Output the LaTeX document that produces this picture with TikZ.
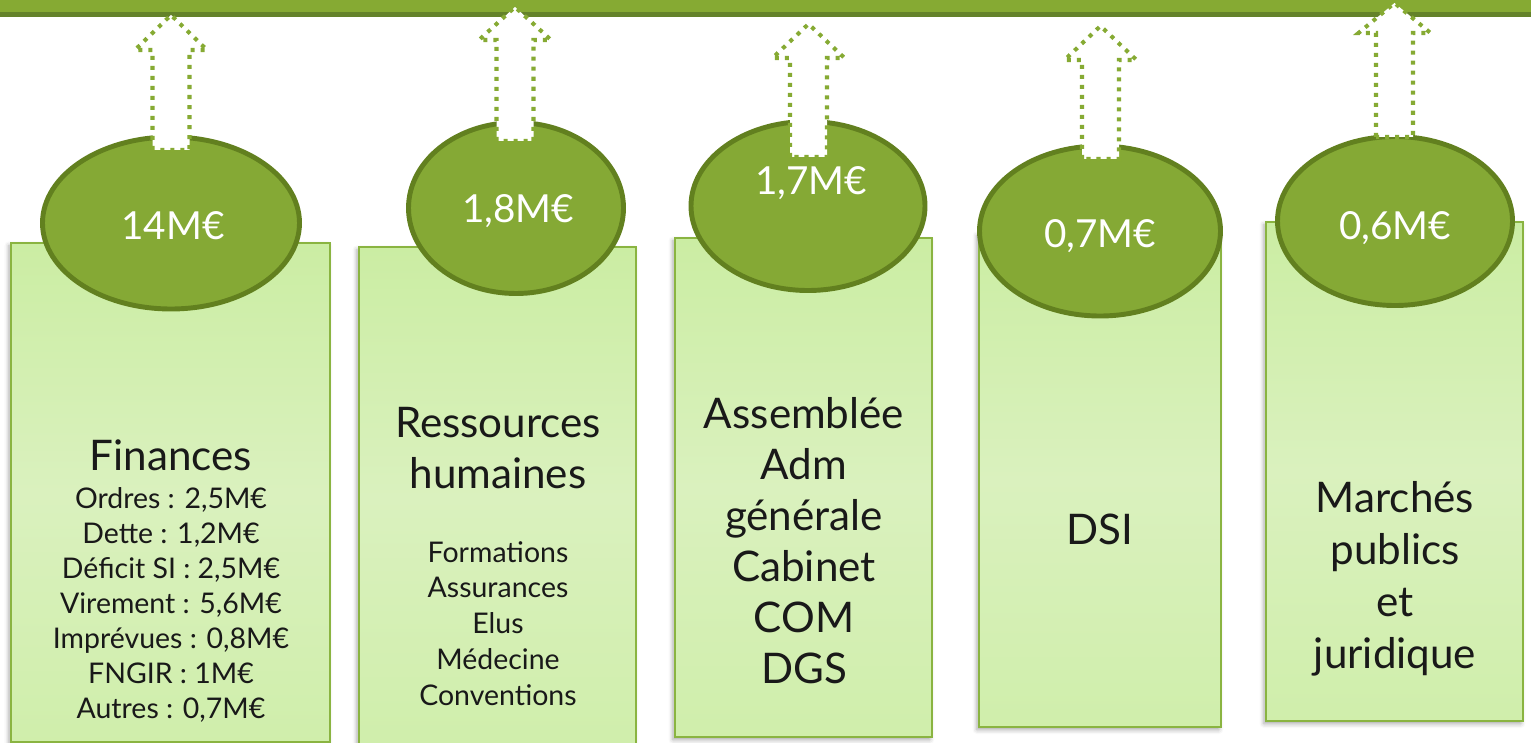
\documentclass[tikz,border=0pt]{standalone}
\usepackage{fontspec}
\setmainfont{Lato}
\usetikzlibrary{shapes.geometric}
\usetikzlibrary{shadows.blur}

\definecolor{barlight}{HTML}{86AA33}
\definecolor{bardark}{HTML}{64822A}
\definecolor{pillfill}{HTML}{85A935}
\definecolor{pillline}{HTML}{62801F}
\definecolor{boxtop}{HTML}{CBEDA3}
\definecolor{boxmid}{HTML}{DAF1BE}
\definecolor{boxline}{HTML}{8AB441}

\tikzset{
  box/.style={draw=boxline, line width=1.1pt, top color=boxtop, bottom color=boxtop!70!boxmid, middle color=boxmid,
    blur shadow={shadow xshift=-1.2pt, shadow yshift=-1.5pt, shadow blur radius=2.5pt, shadow opacity=35}},
  pill/.style={ellipse, draw=pillline, line width=2.8pt, fill=pillfill, inner sep=0pt},
  valtext/.style={text=white, font=\fontsize{22}{27}\selectfont, anchor=base, inner sep=0pt},
  bigtxt/.style={text=black!90, font=\fontsize{24}{29}\selectfont, anchor=base, inner sep=0pt},
  smalltxt/.style={text=black!90, font=\fontsize{16.2}{19}\selectfont, anchor=base, inner sep=0pt},
  uparrow/.style={draw=barlight, fill=white, line width=2.3pt, dash pattern=on 2.3pt off 3.4pt}
}

\begin{document}
\begin{tikzpicture}[x=0.02cm, y=-0.02cm]
  \useasboundingbox (0,0) rectangle (1531,743);

  % bandeau du haut
  \fill[barlight] (0,0) rectangle (1531,12);
  \fill[bardark] (0,12) rectangle (1531,17);

  % colonnes
  \path[box] (11,243) rectangle (330,742);
  \path[box] (359,247) rectangle (636,748);
  \path[box] (675,238) rectangle (932,737);
  \path[box] (979,233) rectangle (1221,727);
  \path[box] (1266,222) rectangle (1523,721);

  % ellipses des montants
  \foreach \nm/\cx/\cy/\w/\h in {e1/171/223/257/172, e2/516/208/215/171, e3/808/206/234/169,
                                 e4/1100/231/241/170, e5/1395/221/235/169}
    \node[pill, minimum width=\w*0.02cm, minimum height=\h*0.02cm] (\nm) at (\cx,\cy) {};

  % fleches pointillees vers le bandeau
  \foreach \cx/\yb/\yw/\yt in {171/150/50/15, 515/141/40/7, 808.5/157/58/24,
                               1100.5/159/60/26, 1394.5/137/33/3}
    \draw[uparrow] (\cx-18.5,\yb) -- (\cx-18.5,\yw) -- (\cx-36,\yw) -- (\cx,\yt)
                   -- (\cx+36,\yw) -- (\cx+18.5,\yw) -- (\cx+18.5,\yb) -- cycle;

  % montants
  \node[valtext] (v1) at (173,239) {14M€};
  \node[valtext] (v2) at (518,223) {1,8M€};
  \node[valtext] (v3) at (811,195) {1,7M€};
  \node[valtext] (v4) at (1100,248) {0,7M€};
  \node[valtext] (v5) at (1395,239) {0,6M€};

  % Finances
  \node[bigtxt] (fin) at (171,470) {Finances};
  \foreach \t [count=\i from 0] in {{Ordres : 2,5M€}, {Dette : 1,2M€}, {Déficit SI : 2,5M€},
                                    {Virement : 5,6M€}, {Imprévues : 0,8M€}, {FNGIR : 1M€}, {Autres : 0,7M€}}
    \node[smalltxt] (fin\i) at (171,{508+35*\i}) {\t};

  % Ressources humaines
  \node[bigtxt] (rh1) at (498,437) {Ressources};
  \node[bigtxt] (rh2) at (498,488) {humaines};
  \foreach \t [count=\i from 0] in {Formations, Assurances, Elus, Médecine, Conventions}
    \node[smalltxt] (rh-\i) at (498,{562+35.75*\i}) {\t};

  % Assemblee / Adm generale
  \foreach \t [count=\i from 0] in {Assemblée, Adm, générale, Cabinet, COM, DGS}
    \node[bigtxt] (adm\i) at (804,{428+51*\i}) {\t};

  % DSI
  \node[bigtxt] (dsi) at (1100,544) {DSI};

  % Marches publics et juridique
  \foreach \t [count=\i from 0] in {Marchés, publics, et, juridique}
    \node[bigtxt] (mp\i) at (1395,{512+52*\i}) {\t};
\end{tikzpicture}
\end{document}
